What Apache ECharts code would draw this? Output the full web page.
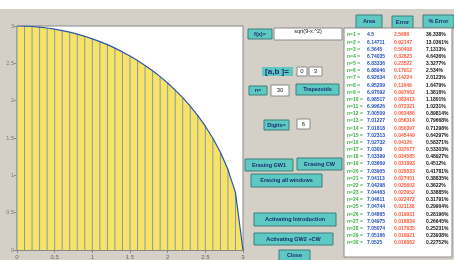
<!DOCTYPE html>
<html>
<head>
<meta charset="utf-8">
<script src="https://cdn.jsdelivr.net/npm/echarts@6/dist/echarts.min.js"></script>
<style>
  html, body { margin: 0; padding: 0; background: #d4d0c8; }
  #main { width: 454px; height: 260px; }
</style>
</head>
<body>
<div id="main"></div>
<script>
// nodes of the 30 trapezoids on [0,3] and f(x) read at each node
var xNodes = [0, 0.1, 0.2, 0.3, 0.4, 0.5, 0.6, 0.7, 0.8, 0.9, 1.0, 1.1, 1.2, 1.3, 1.4, 1.5,
              1.6, 1.7, 1.8, 1.9, 2.0, 2.1, 2.2, 2.3, 2.4, 2.5, 2.6, 2.7, 2.8, 2.9, 3.0];
var fNodes = [3.000, 2.998, 2.993, 2.985, 2.973, 2.958, 2.939, 2.917, 2.891, 2.862, 2.828,
              2.791, 2.750, 2.704, 2.653, 2.598, 2.538, 2.472, 2.400, 2.322, 2.236, 2.142,
              2.040, 1.926, 1.800, 1.658, 1.497, 1.308, 1.077, 0.768, 0];

// results table (n = 1..30)
var areas = ['4.5', '6.14711', '6.5645', '6.74035', '6.83336', '6.88946', '6.92634', '6.95209',
             '6.97092', '6.98517', '6.99626', '7.00509', '7.01227', '7.01818', '7.02313', '7.02732',
             '7.0309', '7.03399', '7.03669', '7.03905', '7.04113', '7.04298', '7.04463', '7.04611',
             '7.04744', '7.04865', '7.04975', '7.05074', '7.05166', '7.0525'];
var errors = ['2.5686', '0.92147', '0.50408', '0.32823', '0.23522', '0.17912', '0.14224', '0.11649',
              '0.097662', '0.083413', '0.072321', '0.063486', '0.056314', '0.050397', '0.045449', '0.04126',
              '0.037677', '0.034585', '0.031893', '0.029533', '0.027451', '0.025602', '0.023952', '0.022472',
              '0.021138', '0.019931', '0.018834', '0.017835', '0.016921', '0.016082'];
var pctErrors = ['36.338%', '13.0361%', '7.1313%', '4.6436%', '3.3277%', '2.534%', '2.0123%', '1.6479%',
                 '1.3816%', '1.1801%', '1.0231%', '0.89814%', '0.79668%', '0.71298%', '0.64297%', '0.58371%',
                 '0.53303%', '0.48927%', '0.4512%', '0.41781%', '0.38835%', '0.3622%', '0.33885%', '0.31791%',
                 '0.29904%', '0.28196%', '0.26645%', '0.25231%', '0.23938%', '0.22752%'];

var FONT = 'Liberation Sans';
var TEAL = '#5ec8c2';
var NAVY = '#1b2b6b';

var pts = xNodes.map(function (x, i) { return [x, fNodes[i]]; });

var chart = echarts.init(document.getElementById('main'), null, { renderer: 'canvas' });

// GUI chrome helpers
function button(x, y, w, h, label, fs) {
  return [
    { type: 'rect', shape: { x: x, y: y, width: w, height: h },
      style: { fill: TEAL, stroke: '#3d7f7b', lineWidth: 1 } },
    { type: 'text', x: x + w / 2, y: y + h / 2,
      style: { text: label, fill: NAVY, font: 'bold ' + (fs || 5.5) + 'px ' + FONT,
               align: 'center', verticalAlign: 'middle' } }
  ];
}
function box(x, y, w, h, label) {
  return [
    { type: 'rect', shape: { x: x, y: y, width: w, height: h },
      style: { fill: '#fff', stroke: '#8a8a8a', lineWidth: 1 } },
    { type: 'text', x: x + w / 2, y: y + h / 2,
      style: { text: label, fill: '#222', font: '6px ' + FONT,
               align: 'center', verticalAlign: 'middle' } }
  ];
}

var g = [];
g.push({ type: 'rect', shape: { x: 0, y: 0, width: 454, height: 9 }, style: { fill: '#fff' } });

g = g.concat(button(248, 29, 24, 10, 'f(x)='));
g.push({ type: 'rect', shape: { x: 274, y: 28, width: 68, height: 12 },
         style: { fill: '#fff', stroke: '#8a8a8a', lineWidth: 1 } });
g.push({ type: 'text', x: 308, y: 31.5, style: { text: 'sqrt(9-x.^2)', fill: '#222',
  font: '5.5px ' + FONT, align: 'center', verticalAlign: 'middle' } });
g.push({ type: 'rect', shape: { x: 262, y: 67, width: 31, height: 9 }, style: { fill: TEAL } });
g.push({ type: 'text', x: 277, y: 71.5, style: { text: '[a,b ]=', fill: NAVY,
  font: 'bold 8px ' + FONT, align: 'center', verticalAlign: 'middle' } });
g = g.concat(box(297, 67, 10, 9, '0'));
g = g.concat(box(309, 67, 13, 9, '3'));
g = g.concat(button(249, 86, 18, 9, 'n='));
g = g.concat(box(271, 85, 18, 11, '30'));
g = g.concat(button(296, 84, 43, 11, 'Trapezoids'));
g = g.concat(button(264, 120, 25, 10, 'Digits='));
g = g.concat(box(297, 119, 13, 10, '6'));
g = g.concat(button(245, 159, 48, 12, 'Erasing GW1'));
g = g.concat(button(297, 158, 45, 12, 'Erasing CW'));
g = g.concat(button(251, 174, 71, 13, 'Erasing all windows'));
g = g.concat(button(254, 213, 82, 13, 'Activating Introduction'));
g = g.concat(button(254, 233, 79, 12, 'Activating GW2 +CW'));
g = g.concat(button(279, 250, 31, 11, 'Close'));

// results table
g = g.concat(button(356, 15, 26, 13, 'Area'));
g = g.concat(button(392, 16, 21, 12, 'Error'));
g = g.concat(button(423, 15, 31, 13, '% Error'));
g.push({ type: 'rect', shape: { x: 344, y: 28, width: 108, height: 229 },
         style: { fill: '#fff', stroke: '#8a8a8a', lineWidth: 1 } });
for (var i = 0; i < areas.length; i++) {
  var ry = 35 + i * 7.17;
  var f5 = 'bold 5px ' + FONT;
  g.push({ type: 'text', x: 347, y: ry, style: { text: 'n=' + (i + 1) + ' =', fill: '#3cb043', font: f5, verticalAlign: 'middle' } });
  g.push({ type: 'text', x: 367, y: ry, style: { text: areas[i], fill: '#2450c0', font: f5, verticalAlign: 'middle' } });
  g.push({ type: 'text', x: 394, y: ry, style: { text: errors[i], fill: '#ff5a3c', font: f5, verticalAlign: 'middle' } });
  g.push({ type: 'text', x: 426, y: ry, style: { text: pctErrors[i], fill: '#111', font: f5, verticalAlign: 'middle' } });
}

var option = {
  animation: false,
  backgroundColor: '#d4d0c8',
  textStyle: { fontFamily: FONT },
  grid: { left: 17, top: 26, width: 226, height: 231, show: true,
          backgroundColor: '#fff', borderColor: '#888', borderWidth: 1 },
  xAxis: [
    { type: 'value', min: 0, max: 3, interval: 0.5, position: 'bottom',
      axisLine: { lineStyle: { color: '#888' } },
      axisTick: { inside: true, length: 3, lineStyle: { color: '#888' } },
      axisLabel: { fontSize: 6, color: '#666', margin: 4 },
      splitLine: { show: false } },
    { type: 'value', min: 0, max: 3, interval: 0.5, position: 'top',
      axisLine: { lineStyle: { color: '#888' } },
      axisTick: { inside: true, length: 3, lineStyle: { color: '#888' } },
      axisLabel: { show: false }, splitLine: { show: false } }
  ],
  yAxis: [
    { type: 'value', min: 0, max: 3, interval: 0.5, position: 'left',
      axisLine: { show: true, lineStyle: { color: '#888' } },
      axisTick: { show: true, inside: true, length: 3, lineStyle: { color: '#888' } },
      axisLabel: { fontSize: 5.5, color: '#777', margin: 3 },
      splitLine: { show: false } },
    { type: 'value', min: 0, max: 3, interval: 0.5, position: 'right',
      axisLine: { show: true, lineStyle: { color: '#888' } },
      axisTick: { show: true, inside: true, length: 3, lineStyle: { color: '#888' } },
      axisLabel: { show: false }, splitLine: { show: false } }
  ],
  series: [
    { // trapezoid area
      type: 'line', data: pts, symbol: 'none', z: 1,
      lineStyle: { width: 0 }, areaStyle: { color: '#f9e366', opacity: 1 } },
    { // trapezoid sides
      type: 'bar', data: pts, barWidth: 1, z: 2,
      itemStyle: { color: '#7f9bb0' } },
    { // f(x)
      type: 'line', data: pts, symbol: 'none', z: 3,
      lineStyle: { color: '#2a56a8', width: 1.2 } }
  ],
  graphic: { elements: g }
};

chart.setOption(option);
</script>
</body>
</html>
